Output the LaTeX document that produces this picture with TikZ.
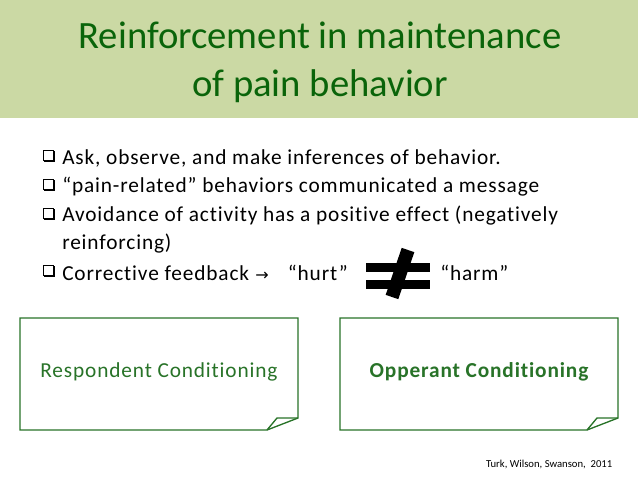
\documentclass[tikz,border=0pt]{standalone}
\usepackage{fontspec}
\setmainfont{Carlito}[Ligatures=NoCommon]
\newfontfamily\bodyfont{Carlito}[Ligatures=NoCommon,LetterSpace=4]
\definecolor{band}{RGB}{203,217,164}
\definecolor{ttl}{RGB}{10,100,10}
\definecolor{bx}{RGB}{40,115,40}
\begin{document}
\begin{tikzpicture}[x=0.75pt,y=-0.75pt,
  bul/.style={anchor=west,font=\bodyfont\fontsize{16}{18}\selectfont,inner sep=0},
  box/.style={draw=bx,line width=1pt,fill=white}]
\useasboundingbox (0,0) rectangle (638,479);
\fill[band] (0,0) rectangle (638,118);
\node[font=\fontsize{29}{36}\selectfont,text=ttl,align=center] (title) at (320,62) {Reinforcement in maintenance\\of pain behavior};
\foreach \y/\t [count=\i] in {158/{Ask, observe, and make inferences of behavior.},187/{“pain-related” behaviors communicated a message},216/{Avoidance of activity has a positive effect (negatively},273/{Corrective feedback}}{
  \draw[line width=0.6pt] (43,\y-8) rectangle (53,\y+2);
  \draw[line width=1.6pt] (44,\y+3) -- (54,\y+3) -- (54,\y-7);
  \node[bul] (b\i) at (62,\y) {\t};
}
\node[bul] (b5) at (62,244) {reinforcing)};
\node[bul] (arr) at (b4.east) {\ \fontspec{DejaVu Sans}\fontsize{12}{14}\selectfont→\bodyfont\fontsize{16}{18}\selectfont\hspace{0.9em}“hurt”};
\node[bul] (harm) at (440,273) {“harm”};
\fill (366,263) rectangle (430,272);
\fill (366,280) rectangle (430,289);
\draw[line width=10pt] (408,250) -- (392,297);
\foreach \x/\n in {20/l,340/r}{
  \draw[box] (\x,318) -- (\x+278,318) -- (\x+278,418) -- (\x+247,430) -- (\x,430) -- cycle;
  \draw[bx,line width=1pt] (\x+278,418) -- (\x+257,418) -- (\x+247,430);
  \coordinate (\n) at (\x+139,372);
}
\node[text=bx,font=\bodyfont\fontsize{16}{18}\selectfont] (lt) at (l) {Respondent Conditioning};
\node[text=bx,font=\bodyfont\fontsize{16}{18}\bfseries\selectfont] (rt) at (r) {Opperant Conditioning};
\node[anchor=east,font=\fontsize{8}{10}\selectfont] (cite) at (617,464) {Turk, Wilson, Swanson,\ \ 2011};
\end{tikzpicture}
\end{document}
